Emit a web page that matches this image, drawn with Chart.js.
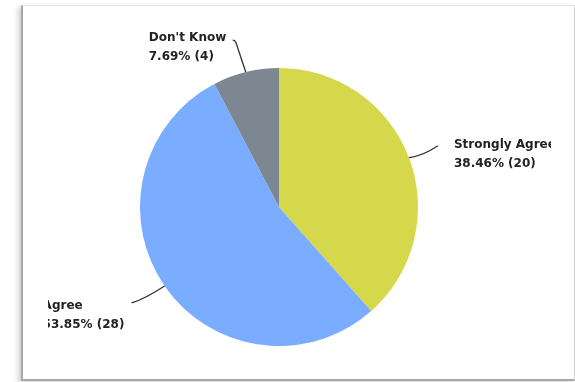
<!DOCTYPE html>
<html>
<head>
<meta charset="utf-8">
<script src="https://cdn.jsdelivr.net/npm/chart.js@4/dist/chart.umd.min.js"></script>
<style>
  html, body { margin: 0; padding: 0; background: #ffffff; width: 575px; height: 382px; overflow: hidden; }
  #frame { position: absolute; left: 21px; top: 5px; width: 551px; height: 373px;
           border-top: 1px solid #e4e4e4; border-right: 1px solid #d0d0d0;
           border-left: 2px solid #a8a8a8; border-bottom: 2px solid #a8a8a8;
           box-shadow: -3px 2px 5px rgba(0,0,0,0.18); background: #fff; }
  #c { position: absolute; left: 0; top: 0; }
</style>
</head>
<body>
<div id="frame"></div>
<canvas id="c" width="575" height="382"></canvas>
<script>
const categories = ["Strongly Agree", "Agree", "Don't Know"];
const percentages = [38.46, 53.85, 7.69];
const counts = [20, 28, 4];
const colors = ["#D6D84C", "#7AACFF", "#7D8791"];

// leader-line geometry per label (offsets relative to slice edge point)
const leader = [
  { end: [29, -12], ctrl: [14, -2], text: [45, -13], align: "left" },
  { end: [-33, 17], ctrl: [-20, 13], text: [-122, 20], align: "left" },
  { end: [-10, -30], ctrl: [-4, -12], text: [-97, -34], align: "left", hook: [-3, -2] }
];

const labelPlugin = {
  id: "pieLabels",
  afterDatasetsDraw(chart) {
    const ctx = chart.ctx;
    const meta = chart.getDatasetMeta(0);
    ctx.save();
    ctx.beginPath();
    ctx.rect(48, 0, 551 - 48, 382);
    ctx.clip();
    meta.data.forEach((arc, i) => {
      const mid = (arc.startAngle + arc.endAngle) / 2;
      const ex = arc.x + Math.cos(mid) * arc.outerRadius;
      const ey = arc.y + Math.sin(mid) * arc.outerRadius;
      const L = leader[i];
      ctx.strokeStyle = "#333333";
      ctx.lineWidth = 1.3;
      ctx.beginPath();
      ctx.moveTo(ex, ey);
      const endX = ex + L.end[0], endY = ey + L.end[1];
      ctx.quadraticCurveTo(ex + L.ctrl[0], ey + L.ctrl[1], endX, endY);
      if (L.hook) ctx.quadraticCurveTo(endX - 1, endY - 2, endX + L.hook[0], endY + L.hook[1]);
      ctx.stroke();
      ctx.fillStyle = "#222222";
      ctx.font = "bold 12px 'DejaVu Sans', sans-serif";
      ctx.textAlign = L.align;
      ctx.textBaseline = "middle";
      const tx = ex + L.text[0], ty = ey + L.text[1];
      ctx.fillText(chart.data.labels[i], tx, ty);
      ctx.fillText(percentages[i].toFixed(2) + "% (" + counts[i] + ")", tx, ty + 19);
    });
    ctx.restore();
  }
};

new Chart(document.getElementById("c"), {
  type: "pie",
  data: {
    labels: categories,
    datasets: [{
      data: percentages,
      backgroundColor: colors,
      borderWidth: 0
    }]
  },
  options: {
    responsive: false,
    animation: false,
    layout: { padding: { top: 68, bottom: 36, left: 140, right: 157 } },
    plugins: { legend: { display: false }, tooltip: { enabled: false } }
  },
  plugins: [labelPlugin]
});
</script>
</body>
</html>
